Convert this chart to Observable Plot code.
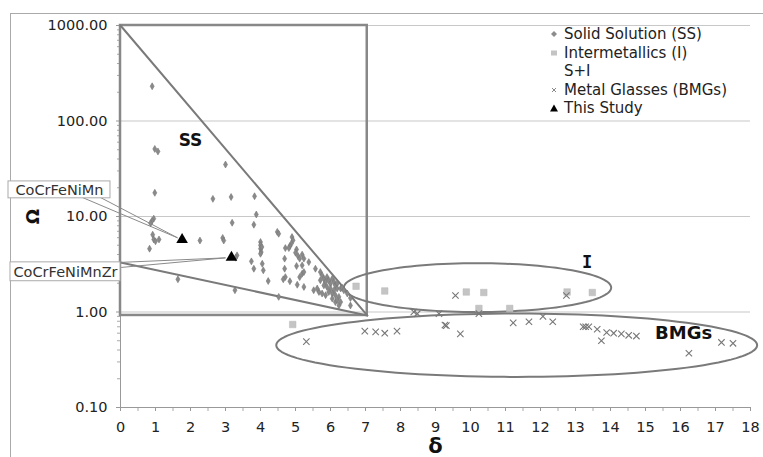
<!DOCTYPE html>
<html><head><meta charset="utf-8">
<script src="https://cdn.jsdelivr.net/npm/d3@7"></script>
<script src="https://cdn.jsdelivr.net/npm/@observablehq/plot@0.6"></script>
<style>
body{margin:0;background:#fff;}
#wrap{position:relative;width:763px;height:457px;overflow:hidden;font-family:"DejaVu Sans",Verdana,sans-serif;background:#fff;}
#frame{position:absolute;left:10px;top:13px;width:800px;height:500px;border:1px solid #aaa;box-sizing:border-box;}
#chart{position:absolute;left:0;top:0;}
#legend{position:absolute;left:549px;top:25px;font-size:15px;line-height:18.5px;color:#222;}
#legend div{display:flex;align-items:center;white-space:nowrap;}
#legend svg{width:10px;height:10px;margin-right:5px;flex:none;}
</style>
</head><body>
<div id="wrap"><div id="frame"></div><div id="chart"></div>
<div id="legend">
<div><svg viewBox="0 0 10 10"><path d="M5,2L8,5L5,8L2,5Z" fill="#8c8c8c"/></svg>Solid Solution (SS)</div>
<div><svg viewBox="0 0 10 10"><rect x="2" y="2.5" width="6" height="5" fill="#c4c4c4"/></svg>Intermetallics (I)</div>
<div><svg viewBox="0 0 10 10"></svg>S+I</div>
<div><svg viewBox="0 0 10 10"><path d="M3,3L7,7M7,3L3,7" stroke="#888" stroke-width="1"/></svg>Metal Glasses (BMGs)</div>
<div><svg viewBox="0 0 10 10"><path d="M5,1.5L9,8.5L1,8.5Z" fill="#000"/></svg>This Study</div>
</div>
</div>
<script>
// ---- Data ----
const ssDelta = [0.905,0.98,1.07,3.0,0.98,2.64,3.16,3.83,3.88,3.19,3.81,0.95,0.90,0.86,4.48,4.52,0.92,0.95,1.1,1.0,0.83,2.27,2.92,2.95,
  4.0,4.0,4.0,4.02,4.0,4.04,3.33,3.29,3.74,3.81,4.05,4.08,4.22,1.64,3.27,4.52,
  4.90,4.93,4.88,4.84,4.81,4.71,5.03,5.0,5.07,5.12,5.19,5.24,5.38,4.69,5.03,5.19,4.69,5.19,5.24,5.12,4.71,4.65,4.84,5.05,5.24,5.57,
  5.71,5.76,5.81,5.86,5.71,5.90,5.95,6.0,6.05,6.1,6.14,6.19,5.81,5.9,6.0,6.1,6.19,5.67,5.76,5.86,5.95,6.05,6.14,6.24,6.29,6.33,6.38,6.48,6.57,
  6.05,6.14,6.24,6.57,6.19,6.29,5.52,5.62];
const ssOmega = [231,51,48,35,17.7,15.3,16,16.3,10.5,8.6,8.2,9.5,9.0,8.5,6.9,6.6,6.45,5.75,5.75,5.5,4.6,5.6,5.96,5.6,
  5.4,5.0,4.6,4.24,4.07,4.8,3.92,3.7,3.39,2.84,3.2,2.73,2.11,2.2,1.69,1.44,
  6.09,5.63,5.19,4.90,4.67,4.67,4.52,4.18,3.86,3.62,3.99,3.62,3.33,3.62,3.03,3.08,2.84,2.52,2.62,2.32,2.32,2.2,2.1,1.93,1.83,2.84,
  2.62,2.42,2.23,2.06,2.15,2.32,2.15,1.98,2.23,2.06,1.90,1.98,1.90,1.83,1.76,1.69,1.76,1.62,1.56,1.50,1.62,1.56,1.50,1.44,1.76,1.80,1.69,1.56,1.40,
  1.38,1.27,1.17,1.17,1.33,1.27,1.69,1.76];
const imDelta = [6.73,7.55,9.88,10.38,12.76,13.48,10.24,11.12,4.92];
const imOmega = [1.86,1.66,1.62,1.60,1.62,1.60,1.09,1.09,0.74];
const bmgDelta = [5.31,6.98,7.29,7.55,7.9,8.38,8.48,9.1,9.27,9.31,9.57,9.71,10.24,11.22,11.67,12.07,12.35,12.74,13.22,13.29,13.38,13.62,13.74,13.89,14.09,14.31,14.52,14.74,16.24,17.17,17.5];
const bmgOmega = [0.49,0.63,0.62,0.60,0.63,1.0,0.96,0.96,0.73,0.72,1.49,0.59,0.96,0.77,0.79,0.90,0.79,1.49,0.70,0.70,0.70,0.66,0.50,0.61,0.60,0.59,0.57,0.56,0.37,0.48,0.47];
const studyNames = ["CoCrFeNiMn","CoCrFeNiMnZr"];
const studyDelta = [1.76,3.17];
const studyOmega = [5.72,3.72];
const xTicks = [0,1,2,3,4,5,6,7,8,9,10,11,12,13,14,15,16,17,18];
const xMinor = [0.5,1.5,2.5,3.5,4.5,5.5,6.5,7.5,8.5,9.5,10.5,11.5,12.5,13.5,14.5,15.5,16.5,17.5];
const yTicks = [0.1,1,10,100,1000];
const yTickLabels = ["0.10","1.00","10.00","100.00","1000.00"];
const yMinor = [0.2,0.3,0.4,0.5,0.6,0.7,0.8,0.9,2,3,4,5,6,7,8,9,20,30,40,50,60,70,80,90,200,300,400,500,600,700,800,900];

// ---- Annotations (data units) ----
const regionBox = {x1:0, x2:7.05, y1:0.92, y2:1000};
const ssEdges = [
  {id:"upper", x:0, y:1000},{id:"upper", x:7.05, y:0.92},
  {id:"lower", x:0, y:3.3},{id:"lower", x:7.05, y:0.92}
];
const ellipses = [
  {id:"I", cx:10.2, cy:1.80, rx:3.82, ry:0.256},
  {id:"BMGs", cx:11.32, cy:0.449, rx:6.87, ry:0.332}
];
const regionLabels = [
  {text:"SS", x:2.0, y:62.5},
  {text:"I", x:13.33, y:3.33},
  {text:"BMGs", x:16.09, y:0.60}
];
const calloutBoxes = [
  {x1:-3.2, x2:-0.286, y1:15.5, y2:23.3, tx:-1.743, ty:19.0, name:studyNames[0]},
  {x1:-3.143, x2:0, y1:2.10, y2:3.31, tx:-1.571, ty:2.63, name:studyNames[1]}
];
const leaders = [
  {id:"a", x:-1.086, y:15.8},{id:"a", x:1.63, y:5.98},{id:"a", x:-0.571, y:15.8},
  {id:"b", x:0.03, y:3.31},{id:"b", x:3.0, y:3.69},{id:"b", x:0.03, y:2.93}
];

// ---- Build tables ----
const ss = ssDelta.map((d,i)=>({x:d, y:ssOmega[i]}));
const im = imDelta.map((d,i)=>({x:d, y:imOmega[i]}));
const bmg = bmgDelta.map((d,i)=>({x:d, y:bmgOmega[i]}));
const study = studyDelta.map((d,i)=>({x:d, y:studyOmega[i], name:studyNames[i]}));
const yLab = yTicks.map((v,i)=>({y:v, label:yTickLabels[i]}));
const ellipsePts = [];
for (const e of ellipses) {
  for (let k = 0; k <= 120; k++) {
    const t = 2*Math.PI*k/120;
    ellipsePts.push({id:e.id, x:e.cx + e.rx*Math.cos(t), y:Math.pow(10, Math.log10(e.cy) + e.ry*Math.sin(t))});
  }
}

const chart = Plot.plot({
  width:763, height:457,
  marginLeft:120, marginRight:13, marginTop:25, marginBottom:50,
  style:{fontFamily:"'DejaVu Sans', sans-serif", fontSize:"14px", background:"transparent", overflow:"visible", color:"#222"},
  x:{domain:[0,18]},
  y:{type:"log", domain:[0.1,1000]},
  marks:[
    Plot.ruleY([1,10,100,1000], {x1:0, x2:18, stroke:"#c8c8c8", strokeWidth:1.2}),
    Plot.axisY({ticks:yTicks, tickSize:4, text:null, label:null, stroke:"#999"}),
    Plot.axisY({ticks:yMinor, tickSize:3, text:null, label:null, stroke:"#aaa"}),
    Plot.text(yLab, {y:"y", text:"label", frameAnchor:"left", dx:-13, textAnchor:"end", lineAnchor:"middle", fontSize:14.5, fill:"#222"}),
    Plot.axisX({ticks:xTicks, tickSize:4, text:null, label:null, stroke:"#999"}),
    Plot.axisX({ticks:xMinor, tickSize:4, text:null, label:null, stroke:"#aaa"}),
    Plot.text(xTicks, {x:d=>d, text:d=>String(d), frameAnchor:"bottom", dy:20, textAnchor:"middle", lineAnchor:"middle", fontSize:14.5, fill:"#222"}),
    Plot.ruleX([0], {stroke:"#999"}),
    Plot.ruleY([0.1], {stroke:"#999"}),
    Plot.rect([regionBox], {x1:"x1", x2:"x2", y1:"y1", y2:"y2", fill:"none", stroke:"#888", strokeWidth:2.5}),
    Plot.line(ssEdges, {x:"x", y:"y", z:"id", stroke:"#7a7a7a", strokeWidth:2}),
    Plot.line(ellipsePts, {x:"x", y:"y", z:"id", stroke:"#7a7a7a", strokeWidth:2, curve:"linear"}),
    Plot.line(leaders, {x:"x", y:"y", z:"id", stroke:"#8a8a8a", strokeWidth:1}),
    Plot.rect(calloutBoxes, {x1:"x1", x2:"x2", y1:"y1", y2:"y2", fill:"#fff", stroke:"#aaa", strokeWidth:1}),
    Plot.text(calloutBoxes, {x:"tx", y:"ty", text:"name", fontSize:14.5, fill:"#333"}),
    Plot.text(regionLabels.slice(0,1), {x:"x", y:"y", text:"text", fontSize:17, fontWeight:"bold", fill:"#111"}),
    Plot.text(regionLabels.slice(1,2), {x:"x", y:"y", text:"text", fontSize:17, fontWeight:"bold", fill:"#111", fontFamily:"DejaVu Sans Mono"}),
    Plot.text(regionLabels.slice(2), {x:"x", y:"y", text:"text", fontSize:18, fontWeight:"bold", fill:"#111"}),
    Plot.dot(ss, {x:"x", y:"y", symbol:"diamond", r:2.1, fill:"#8a8a8a", stroke:"#777", strokeWidth:0.6}),
    Plot.dot(im, {x:"x", y:"y", symbol:"square", r:3.7, fill:"#c4c4c4", stroke:"#bbb", strokeWidth:0.5}),
    Plot.dot(bmg, {x:"x", y:"y", symbol:"times", r:3, stroke:"#777", strokeWidth:1.1}),
    Plot.dot(study, {x:"x", y:"y", symbol:"triangle", r:4.3, fill:"#000"}),
    Plot.text(["Ω"], {frameAnchor:"left", dx:-87, rotate:-90, fontSize:18, fontWeight:"bold", textAnchor:"middle", lineAnchor:"middle", fill:"#111"}),
    Plot.text(["δ"], {frameAnchor:"bottom", dy:39, fontSize:21, fontWeight:"bold", textAnchor:"middle", lineAnchor:"middle", fill:"#111"})
  ]
});
document.getElementById("chart").appendChild(chart);
</script>
</body></html>
